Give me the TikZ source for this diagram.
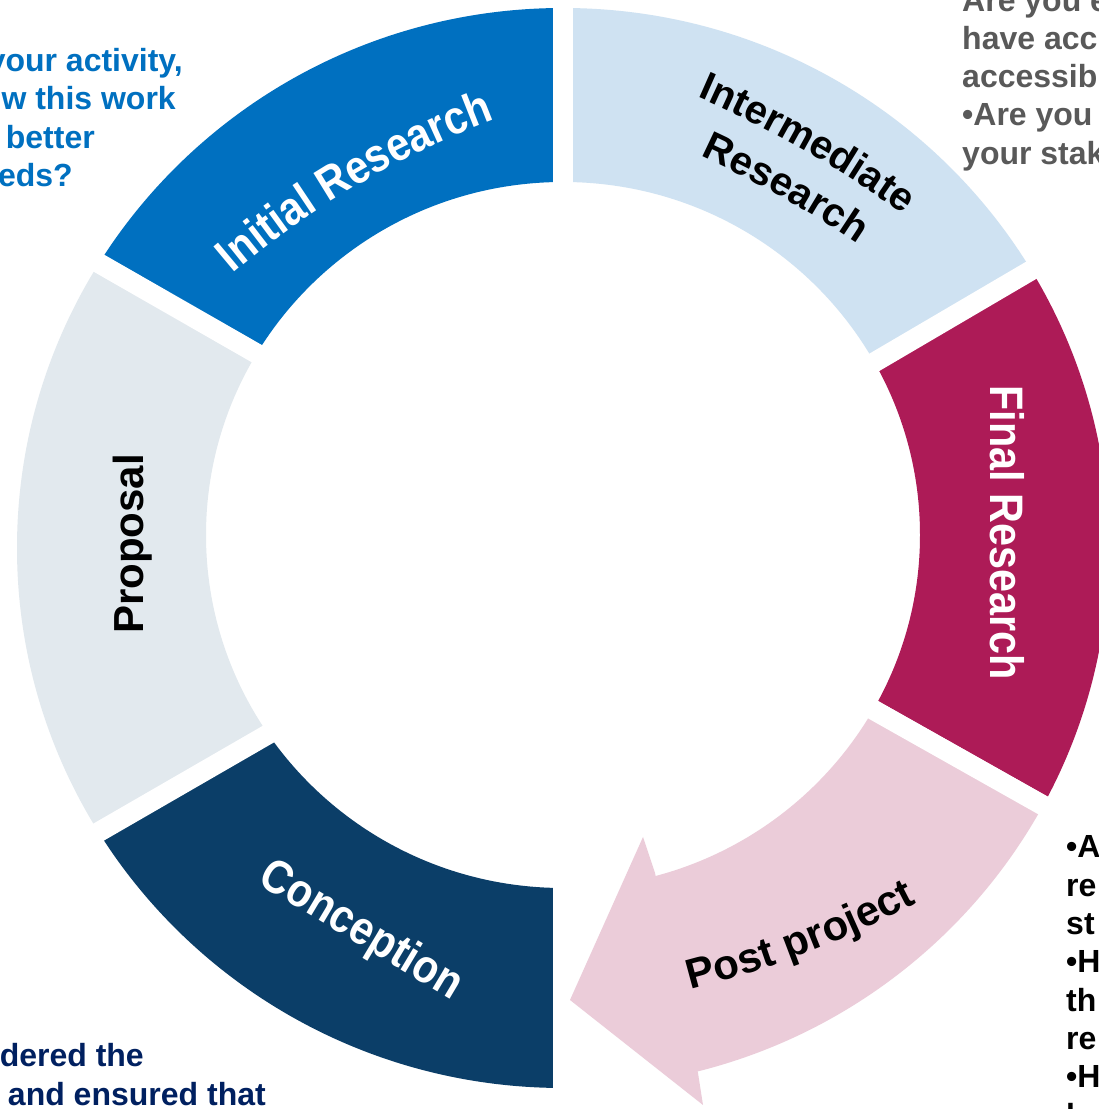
\documentclass[tikz,border=0pt]{standalone}
\usepackage{fontspec}
\setmainfont{Liberation Sans}
\newfontfamily\condfont[FakeStretch=0.88]{Liberation Sans}
\usetikzlibrary{calc,decorations.text}
\definecolor{cInit}{HTML}{0070C0}
\definecolor{cInter}{HTML}{CFE2F2}
\definecolor{cFinal}{HTML}{AD1B57}
\definecolor{cPost}{HTML}{EBCCD9}
\definecolor{cConc}{HTML}{0B3E68}
\definecolor{cProp}{HTML}{E2E9EE}
\definecolor{cBlue}{HTML}{0070C0}
\definecolor{cGrey}{HTML}{595959}
\definecolor{cNavy}{HTML}{002060}
\newcommand\fInit{\condfont\bfseries\fontsize{47}{47}\selectfont\color{white}}
\newcommand\fInter{\bfseries\fontsize{40}{40}\selectfont\color{black}}
\newcommand\fPost{\bfseries\fontsize{42}{42}\selectfont\color{black}}
\newcommand\ringfill[1]{\fill[#1, even odd rule] (563,561) ellipse [x radius=546pt, y radius=540pt] (563,574) ellipse [x radius=357pt, y radius=353pt];}
\tikzset{
  gapline/.style={white, line width=20pt},
  outtext/.style={font=\bfseries\fontsize{32}{38}\selectfont, inner sep=0pt},
  seglabel/.style={inner sep=0pt, anchor=base},
  condwhite/.style={font=\condfont\bfseries\fontsize{47}{47}\selectfont, text=white},
}
\begin{document}
\begin{tikzpicture}[x=1pt,y=1pt]
\useasboundingbox (0,0) rectangle (1099,1109);
\clip (0,0) rectangle (1099,1109);
\fill[white] (0,0) rectangle (1099,1109);

% outside texts
\node[outtext, text=cBlue, anchor=base east] (tl1) at (183,1037) {your activity,};
\node[outtext, text=cBlue, anchor=base east] (tl2) at (176,999) {w this work};
\node[outtext, text=cBlue, anchor=base east] (tl3) at (95,960.7) {better};
\node[outtext, text=cBlue, anchor=base east] (tl4) at (73,922.3) {eds?};

\node[outtext, text=cGrey, anchor=base west] (tr1) at (962,1097.9) {Are you e};
\node[outtext, text=cGrey, anchor=base west] (tr2) at (962,1059.6) {have acc};
\node[outtext, text=cGrey, anchor=base west] (tr3) at (962,1021.3) {accessib};
\node[outtext, text=cGrey, anchor=base west] (tr4) at (962,983) {•Are you};
\node[outtext, text=cGrey, anchor=base west] (tr5) at (962,944.7) {your stak};

\node[outtext, text=black, anchor=base west] (br1) at (1066,251) {•A};
\node[outtext, text=black, anchor=base west] (br2) at (1066,212.7) {re};
\node[outtext, text=black, anchor=base west] (br3) at (1066,174.4) {st};
\node[outtext, text=black, anchor=base west] (br4) at (1066,136.1) {•H};
\node[outtext, text=black, anchor=base west] (br5) at (1066,97.8) {th};
\node[outtext, text=black, anchor=base west] (br6) at (1066,59.5) {re};
\node[outtext, text=black, anchor=base west] (br7) at (1066,21.2) {•H};
\node[outtext, text=black, anchor=base west] (br8) at (1066,-17.1) {l};

\node[outtext, text=cNavy, anchor=base east] (bl1) at (144,42) {dered the};
\node[outtext, text=cNavy, anchor=base east] (bl2) at (266,3) {and ensured that};

% ring segments
\begin{scope}
\clip (563,580) -- ($(563,580)+(150.2:900)$) -- ($(563,569)+(120:1300)$) -- ($(563,569)+(90:900)$) -- (563,569) -- cycle;
\ringfill{cInit}
\end{scope}
\begin{scope}
\clip (563,569) -- ($(563,569)+(90:900)$) -- ($(563,569)+(60:1300)$) -- ($(563,564)+(30.4:900)$) -- (563,564) -- cycle;
\ringfill{cInter}
\end{scope}
\begin{scope}
\clip (563,564) -- ($(563,564)+(30.4:900)$) -- ($(563,569)+(0:1300)$) -- ($(563,574)+(-29.4:900)$) -- (563,574) -- cycle;
\ringfill{cFinal}
\end{scope}
\begin{scope}
\clip (563,569) -- ($(563,569)+(-90:900)$) -- ($(563,569)+(-120:1300)$) -- ($(563,545)+(210:900)$) -- (563,545) -- cycle;
\ringfill{cConc}
\end{scope}
\begin{scope}
\clip (563,545) -- ($(563,545)+(210:900)$) -- ($(563,569)+(180:1300)$) -- ($(563,580)+(150.2:900)$) -- (563,580) -- cycle;
\ringfill{cProp}
\end{scope}

% gaps
\draw[gapline] (563,569) -- ++(90:560);
\draw[gapline] (563,564) -- ++(30.4:570);
\draw[gapline] (563,574) -- ++(-29.4:570);
\draw[gapline] (563,569) -- ++(-90:560);
\draw[gapline] (563,545) -- ++(210:570);
\draw[gapline] (563,580) -- ++(150.2:570);

% post project arrow
\begin{scope}
\clip (563,574) -- ($(563,574)+(-29.4:900)$) -- ($(563,569)+(-53:1300)$) -- ($(563,569)+(-77:900)$) -- (563,569) -- cycle;
\ringfill{cPost}
\end{scope}
\fill[cPost] (655,236) -- (643,272) -- (570,109) -- (703,4) -- (698,36) -- cycle;
\draw[gapline] (563,574) -- ++(-29.4:570);

% labels
\path[decorate, decoration={text along path, text align=center, text={|\fInit|Initial Research}}]
  ($(357,923.5)+(120.5:-900)+(133.2:900)$) arc[start angle=133.2, end angle=107.8, radius=900pt];
\path[decorate, decoration={text along path, text align=center, text={|\fInter|Intermediate}}]
  ($(803.5,959)+(60.3:-1100)+(69.2:1100)$) arc[start angle=69.2, end angle=51.4, radius=1100pt];
\path[decorate, decoration={text along path, text align=center, text={|\fInter|Research}}]
  ($(781,912.3)+(60.7:-1100)+(67.5:1100)$) arc[start angle=67.5, end angle=53.9, radius=1100pt];
\path[decorate, decoration={text along path, text align=center, text={|\fPost|Post project}}]
  ($(806.4,155.9)+(111:1050)+(-77.7:1050)$) arc[start angle=-77.7, end angle=-60.3, radius=1050pt];

\node[seglabel, condwhite, rotate=-90] (final) at (990,576.5) {Final Research};
\node[seglabel, font=\bfseries\fontsize{42}{42}\selectfont, rotate=90] (proposal) at (143,565) {Proposal};
\node[seglabel, condwhite, rotate=-30.9] (conception) at (354.5,167) {Conception};
\end{tikzpicture}
\end{document}
